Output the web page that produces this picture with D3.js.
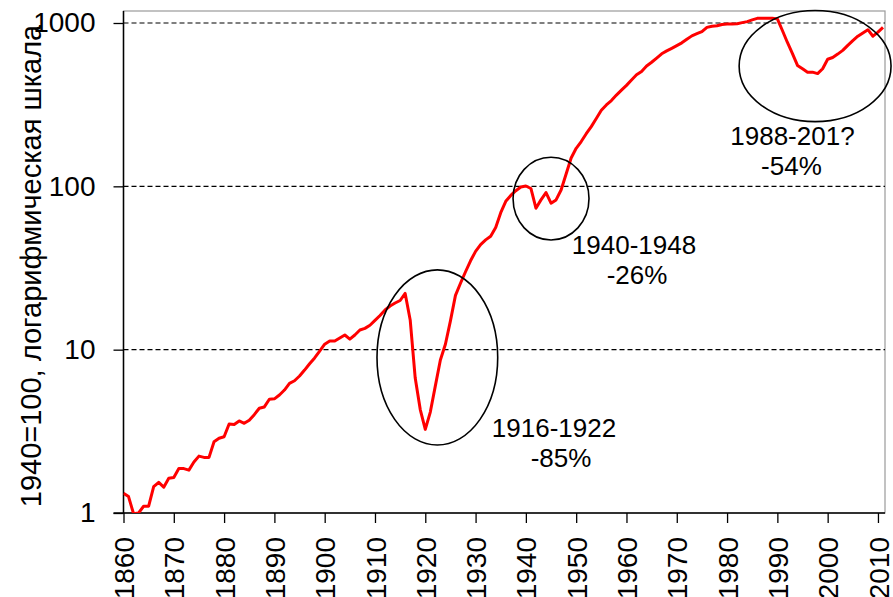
<!DOCTYPE html>
<html>
<head>
<meta charset="utf-8">
<script src="https://cdn.jsdelivr.net/npm/d3@7"></script>
<style>
  body { margin: 0; background: #fff; }
  text { font-family: "Liberation Sans", Arial, sans-serif; fill: #000; }
</style>
</head>
<body>
<svg id="chart" width="893" height="597"></svg>
<script>
// индекс, 1940=100 (годовые значения 1860..2011)
const firstYear = 1860;
const values = [
  1.32, 1.26, 0.99, 1.0, 1.10, 1.10, 1.45, 1.54, 1.44, 1.63,
  1.65, 1.87, 1.87, 1.83, 2.05, 2.23, 2.19, 2.19, 2.73, 2.87,
  2.93, 3.51, 3.48, 3.66, 3.54, 3.70, 4.00, 4.38, 4.46, 4.97,
  5.00, 5.28, 5.66, 6.22, 6.45, 6.90, 7.50, 8.20, 8.90, 9.80,
  10.8, 11.3, 11.3, 11.8, 12.3, 11.6, 12.3, 13.2, 13.5, 14.1,
  15.1, 16.2, 17.5, 18.5, 19.3, 20.0, 22.1, 15.2, 6.7, 4.3,
  3.25, 4.15, 6.0, 8.65, 10.8, 15.0, 21.5, 25.5, 30, 35,
  40, 44, 47, 49.5, 56, 69, 81, 88, 94, 99,
  100.5, 97, 73.5, 82.6, 91.6, 78.8, 82.6, 95, 119, 149,
  171, 188, 210, 232, 260, 292, 315, 335, 362, 388,
  415, 448, 482, 505, 545, 575, 610, 648, 675, 700,
  727, 756, 795, 834, 860, 885, 940, 955, 962, 980,
  985, 987, 990, 1005, 1020, 1045, 1068, 1070, 1070, 1070,
  1060, 900, 760, 650, 550, 525, 500, 500, 490, 525,
  600, 615, 645, 680, 730, 780, 830, 870, 910, 830,
  880, 940
];
const xTicks = [1860, 1870, 1880, 1890, 1900, 1910, 1920, 1930, 1940, 1950, 1960, 1970, 1980, 1990, 2000, 2010];
const yTicks = [1, 10, 100, 1000];
const yLabel = "1940=100, логарифмическая шкала";

// кризисы: центр эллипса (год, значение), полуоси в годах и в декадах
const crises = [
  { year: 1922.4, value: 8.96, rYears: 12.0, rDecades: 0.536, line1: "1916-1922", line2: "-85%", tYear: 1945.6, tValue: 2.93, dx2: 7 },
  { year: 1945.0, value: 84.1, rYears: 7.55, rDecades: 0.253, line1: "1940-1948", line2: "-26%", tYear: 1961.5, tValue: 38.5, dx2: 3 },
  { year: 1997.5, value: 545, rYears: 15.1, rDecades: 0.34, line1: "1988-201?", line2: "-54%", tYear: 1993.0, tValue: 179, dx2: -1 }
];

const data = values.map((v, i) => ({ year: firstYear + i, value: v }));

const plotLeft = 123.5, plotRight = 885, plotTop = 11, plotBottom = 513;

const x = d3.scaleLinear().domain([1860, 2011.4]).range([plotLeft, plotRight]);
const y = d3.scaleLog().domain([1, 1000]).range([plotBottom, 23]);

const svg = d3.select("#chart");

svg.append("defs").append("clipPath").attr("id", "plotclip")
  .append("rect")
  .attr("x", plotLeft).attr("y", plotTop)
  .attr("width", plotRight - plotLeft).attr("height", plotBottom - plotTop);

// рамка области построения
svg.append("rect")
  .attr("x", plotLeft).attr("y", plotTop)
  .attr("width", plotRight - plotLeft).attr("height", plotBottom - plotTop)
  .attr("fill", "none").attr("stroke", "#9a9a9a").attr("stroke-width", 1.2);

// пунктирная сетка
svg.append("g").selectAll("line")
  .data(yTicks.filter(d => d > 1))
  .enter().append("line")
  .attr("x1", plotLeft).attr("x2", plotRight)
  .attr("y1", d => y(d)).attr("y2", d => y(d))
  .attr("stroke", "#000").attr("stroke-width", 1.2)
  .attr("stroke-dasharray", "5,3");

// ось Y
const yAxis = d3.axisLeft(y).tickValues(yTicks).tickFormat(d3.format("d"))
  .tickSize(10).tickPadding(18);
const gy = svg.append("g").attr("transform", `translate(${plotLeft},0)`).call(yAxis);
gy.select(".domain").remove();
gy.selectAll(".tick line").attr("stroke", "#000").attr("stroke-width", 1.3);
gy.selectAll(".tick text").attr("font-size", 28).attr("font-family", "Liberation Sans, Arial, sans-serif");
svg.append("line").attr("x1", plotLeft).attr("x2", plotLeft).attr("y1", plotTop).attr("y2", plotBottom)
  .attr("stroke", "#000").attr("stroke-width", 1.5);

// ось X
const xAxis = d3.axisBottom(x).tickValues(xTicks).tickFormat(d3.format("d"))
  .tickSize(10).tickPadding(0);
const gx = svg.append("g").attr("transform", `translate(0,${plotBottom})`).call(xAxis);
gx.select(".domain").remove();
gx.selectAll(".tick line").attr("stroke", "#000").attr("stroke-width", 1.3);
gx.selectAll(".tick text")
  .attr("font-size", 28).attr("font-family", "Liberation Sans, Arial, sans-serif")
  .attr("text-anchor", "end")
  .attr("transform", "rotate(-90)")
  .attr("x", -24).attr("y", 0).attr("dy", "0.36em");
svg.append("line").attr("x1", plotLeft - 10).attr("x2", plotRight).attr("y1", plotBottom).attr("y2", plotBottom)
  .attr("stroke", "#000").attr("stroke-width", 1.5);

// подпись оси Y
svg.append("text")
  .attr("transform", `translate(41,${(plotTop + plotBottom) / 2 + 4}) rotate(-90)`)
  .attr("text-anchor", "middle")
  .attr("font-size", 29)
  .text(yLabel);

// линия
const line = d3.line().x(d => x(d.year)).y(d => y(d.value));
svg.append("path")
  .datum(data)
  .attr("clip-path", "url(#plotclip)")
  .attr("fill", "none")
  .attr("stroke", "#ff0000")
  .attr("stroke-width", 3)
  .attr("stroke-linejoin", "round")
  .attr("d", line);

// эллипсы и подписи кризисов
const ann = svg.append("g");
ann.selectAll("ellipse")
  .data(crises)
  .enter().append("ellipse")
  .attr("cx", d => x(d.year))
  .attr("cy", d => y(d.value))
  .attr("rx", d => x(d.year + d.rYears) - x(d.year))
  .attr("ry", d => y(d.value) - y(d.value * Math.pow(10, d.rDecades)))
  .attr("fill", "none")
  .attr("stroke", "#000")
  .attr("stroke-width", 1.6);

const labels = ann.selectAll("text.crisis")
  .data(crises)
  .enter().append("text")
  .attr("class", "crisis")
  .attr("font-size", 26)
  .attr("text-anchor", "middle")
  .attr("x", d => x(d.tYear))
  .attr("y", d => y(d.tValue));
labels.append("tspan").text(d => d.line1);
labels.append("tspan")
  .attr("x", d => x(d.tYear) + d.dx2)
  .attr("dy", 30)
  .text(d => d.line2);
</script>
</body>
</html>
